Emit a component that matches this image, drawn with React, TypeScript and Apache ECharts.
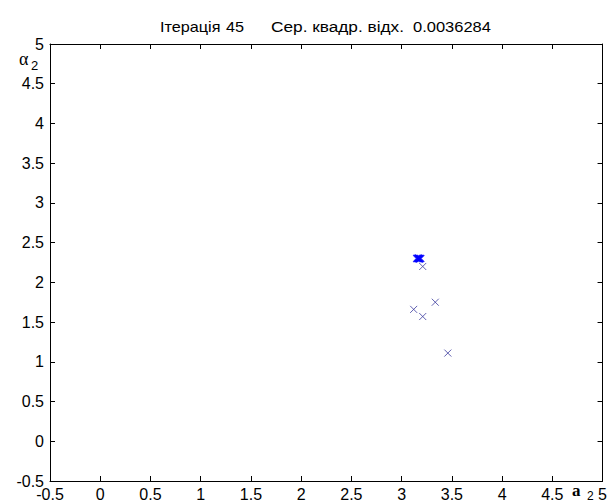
import React, { useEffect, useRef } from "react";
import * as echarts from "echarts";

const xTicks = { min: -0.5, max: 5, interval: 0.5 };
const yTicks = { min: -0.5, max: 5, interval: 0.5 };
const singlePoints: [number, number][] = [
  [3.21, 2.2],
  [3.12, 1.66],
  [3.21, 1.57],
  [3.335, 1.75],
  [3.46, 1.11],
];
const clusterPoints: [number, number][] = [
  [3.15, 2.3],
  [3.16, 2.3],
  [3.17, 2.3],
  [3.18, 2.3],
  [3.19, 2.3],
  [3.165, 2.305],
  [3.175, 2.295],
];
const titleParts = ["Ітерація", "45", "Сер. квадр. відх.", "0.0036284"];

const FONT = "'Liberation Sans', Arial, sans-serif";
const SERIF = "'Liberation Serif', 'DejaVu Serif', serif";
const XSYM = "path://M0,0L10,10M10,0L0,10";

export default function App() {
  const ref = useRef<HTMLDivElement>(null);
  useEffect(() => {
    if (!ref.current) return;
    const chart = echarts.init(ref.current, undefined, { renderer: "svg" });
    const baseAxis = {
      splitLine: { show: false },
      axisLine: { show: true, onZero: false, lineStyle: { color: "#000", width: 1 } },
      axisTick: { show: true, inside: true, length: 5, lineStyle: { color: "#000" } },
    };
    const tf = `15px ${FONT}`;
    chart.setOption({
      animation: false,
      backgroundColor: "#fff",
      grid: { left: 50, right: 6, top: 44, bottom: 22 },
      xAxis: [
        {
          type: "value",
          ...xTicks,
          position: "bottom",
          ...baseAxis,
          axisLabel: { color: "#000", fontSize: 16, fontFamily: FONT, margin: 5 },
        },
        {
          type: "value",
          ...xTicks,
          position: "top",
          ...baseAxis,
          axisLabel: { show: false },
        },
      ],
      yAxis: [
        {
          type: "value",
          ...yTicks,
          position: "left",
          ...baseAxis,
          axisLabel: { color: "#000", fontSize: 16, fontFamily: FONT, margin: 6 },
        },
        {
          type: "value",
          ...yTicks,
          position: "right",
          ...baseAxis,
          axisLabel: { show: false },
        },
      ],
      graphic: [
        { type: "text", x: 160, y: 19, scaleX: 1.08, style: { text: titleParts[0], font: tf, fill: "#000" } },
        { type: "text", x: 226, y: 19, scaleX: 1.08, style: { text: titleParts[1], font: tf, fill: "#000" } },
        { type: "text", x: 271, y: 19, scaleX: 1.15, style: { text: titleParts[2], font: tf, fill: "#000" } },
        { type: "text", x: 413, y: 19, scaleX: 1.1, style: { text: titleParts[3], font: tf, fill: "#000" } },
        { type: "text", left: 19, top: 50, style: { text: "α", font: `18px ${SERIF}`, fill: "#000" } },
        { type: "text", left: 31, top: 59, style: { text: "2", font: `13px ${FONT}`, fill: "#000" } },
        { type: "text", left: 572, top: 482, style: { text: "a", font: `bold 17px ${SERIF}`, fill: "#000" } },
        { type: "text", left: 587, top: 490, style: { text: "2", font: `12px ${FONT}`, fill: "#000" } },
      ],
      series: [
        {
          type: "scatter",
          data: singlePoints,
          symbol: XSYM,
          symbolSize: 7,
          itemStyle: { color: "none", borderColor: "#3a3a9e", borderWidth: 1 },
        },
        {
          type: "scatter",
          data: clusterPoints,
          symbol: XSYM,
          symbolSize: 7,
          itemStyle: { color: "none", borderColor: "#0000ff", borderWidth: 1.5 },
        },
      ],
    });
    return () => chart.dispose();
  }, []);
  return (
    <div
      ref={ref}
      style={{ position: "fixed", left: 0, top: 0, width: 610, height: 503, background: "#fff" }}
    />
  );
}
